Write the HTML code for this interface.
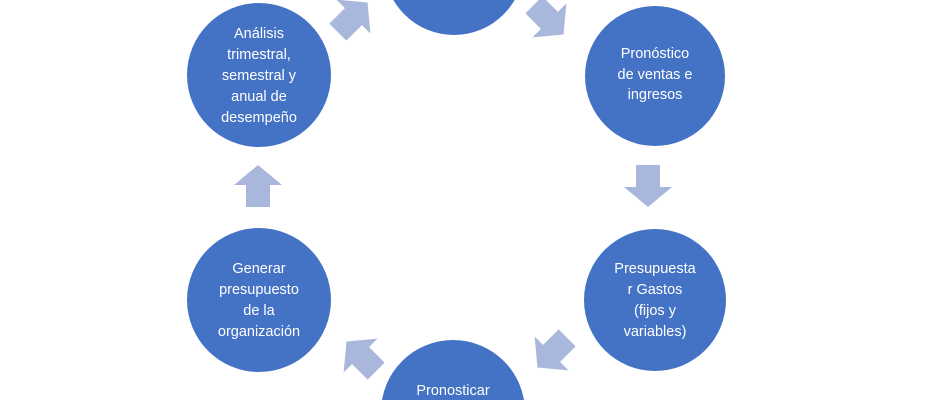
<!DOCTYPE html>
<html><head><meta charset="utf-8"><style>
html,body{margin:0;padding:0;background:#fff;width:940px;height:400px;overflow:hidden;}
svg{display:block;overflow:hidden}
text{font-family:"Liberation Sans",sans-serif;font-size:14.5px;fill:#fff;text-anchor:middle}
</style></head><body>
<svg width="940" height="400" viewBox="0 0 940 400">
<defs>
<clipPath id="cp"><rect x="0" y="0" width="940" height="400"/></clipPath>
<polygon id="ar" points="-20,-12 2,-12 2,-24 22,0 2,24 2,12 -20,12" fill="#A9B7DC"/>
</defs>
<g clip-path="url(#cp)">
<g fill="#4472C4">
<circle cx="454" cy="-35" r="70"/>
<circle cx="259" cy="75" r="72"/>
<circle cx="655" cy="76" r="70"/>
<circle cx="655" cy="300" r="71"/>
<circle cx="259" cy="300" r="72"/>
<circle cx="453" cy="412" r="72"/>
</g>
<use href="#ar" transform="translate(352,18) rotate(-45)"/>
<use href="#ar" transform="translate(548,19) rotate(45)"/>
<use href="#ar" transform="translate(553,352) rotate(135)"/>
<use href="#ar" transform="translate(362,357) rotate(-135)"/>
<use href="#ar" transform="translate(258,187) rotate(-90)"/>
<use href="#ar" transform="translate(648,185) rotate(90)"/>
</g>
<text x="259" y="38">Análisis</text>
<text x="259" y="59">trimestral,</text>
<text x="259" y="80">semestral y</text>
<text x="259" y="101">anual de</text>
<text x="259" y="122">desempeño</text>
<text x="655" y="58">Pronóstico</text>
<text x="655" y="79">de ventas e</text>
<text x="655" y="99">ingresos</text>
<text x="655" y="273">Presupuesta</text>
<text x="655" y="294">r Gastos</text>
<text x="655" y="315">(fijos y</text>
<text x="655" y="336">variables)</text>
<text x="259" y="273">Generar</text>
<text x="259" y="294">presupuesto</text>
<text x="259" y="315">de la</text>
<text x="259" y="336">organización</text>
<text x="453" y="395">Pronosticar</text>
</svg>
</body></html>
